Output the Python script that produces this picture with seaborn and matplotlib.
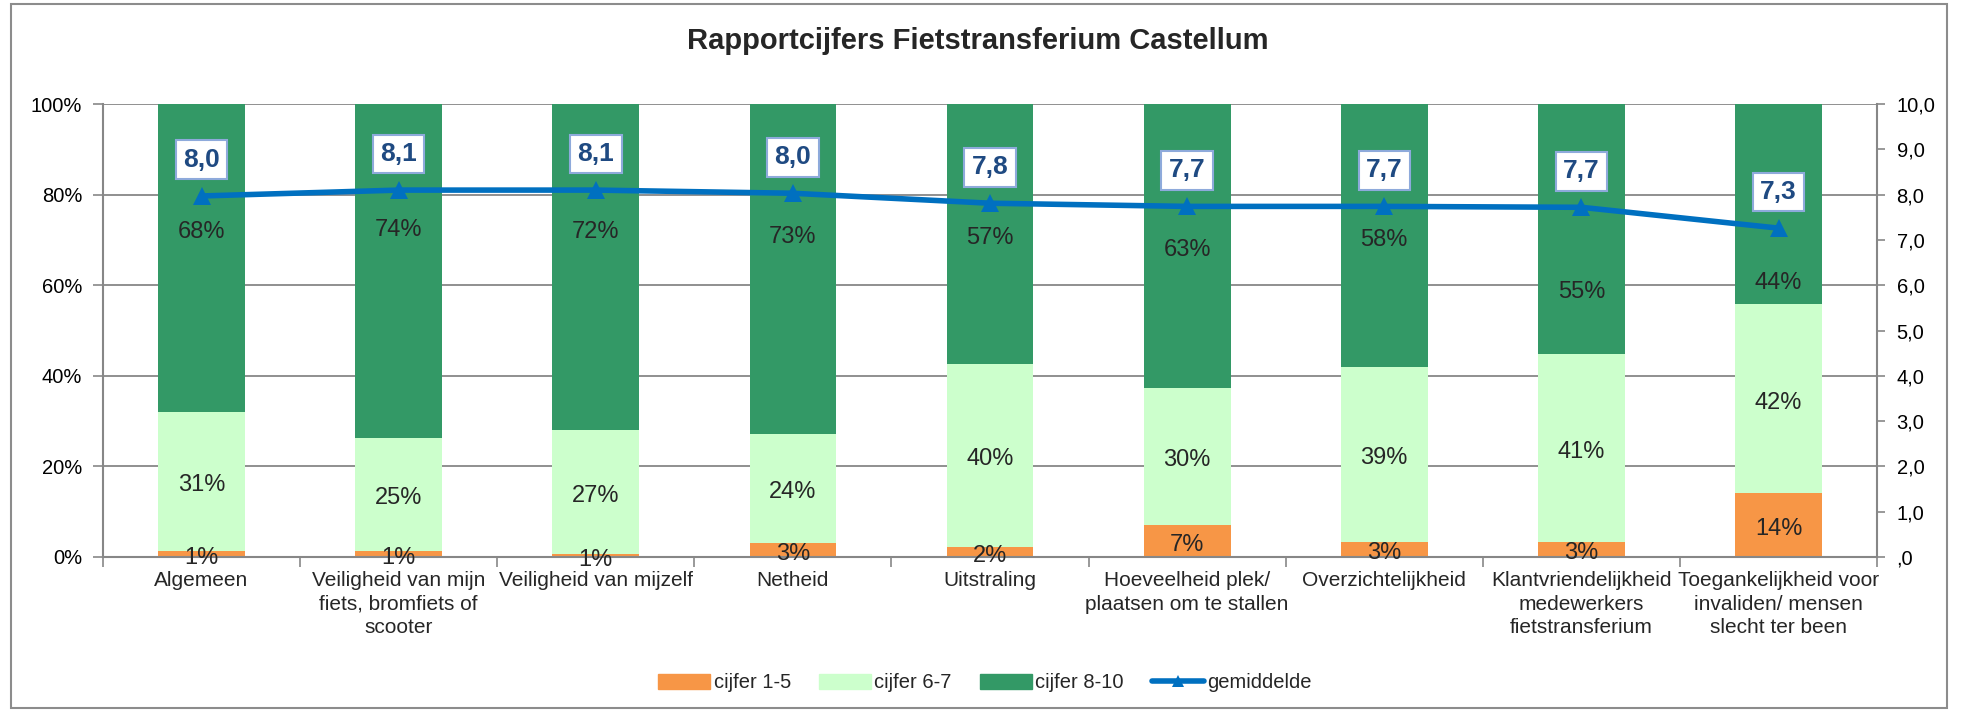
import numpy as np
import pandas as pd
import matplotlib
matplotlib.use('Agg')
import matplotlib.pyplot as plt
import matplotlib.ticker as mticker
from matplotlib.patches import Patch, Rectangle
from matplotlib.lines import Line2D
import seaborn as sns

sns.set_theme(style='ticks')
plt.rcParams['font.family'] = ['Liberation Sans', 'DejaVu Sans']

# -----------------------------------------------------------------------------
# Data
# -----------------------------------------------------------------------------
categories = ['Algemeen',
              'Veiligheid van mijn\nfiets, bromfiets of\nscooter',
              'Veiligheid van mijzelf',
              'Netheid',
              'Uitstraling',
              'Hoeveelheid plek/\nplaatsen om te stallen',
              'Overzichtelijkheid',
              'Klantvriendelijkheid\nmedewerkers\nfietstransferium',
              'Toegankelijkheid voor\ninvaliden/ mensen\nslecht ter been']
cijfer_1_5 = [1.4, 1.4, 0.7, 3.2, 2.3, 7.1, 3.4, 3.4, 14.1]
cijfer_6_7 = [30.7, 24.9, 27.3, 24.0, 40.4, 30.3, 38.6, 41.4, 41.7]
cijfer_8_10 = [67.9, 73.7, 72.0, 72.8, 57.3, 62.6, 58.0, 55.2, 44.2]
gemiddelde = [7.97, 8.10, 8.10, 8.03, 7.81, 7.74, 7.74, 7.72, 7.26]

series_names = ['cijfer 1-5', 'cijfer 6-7', 'cijfer 8-10', 'gemiddelde']
title = 'Rapportcijfers Fietstransferium Castellum'

# layout: manually placed labels of the top segment (in %)
dark_label_y = [71.7, 72.2, 71.7, 70.6, 70.4, 67.8, 70.0, 58.5, 60.5]

c_orange = '#F79646'
c_light = '#CCFFCC'
c_dark = '#339966'
c_line = '#0070C0'
c_grid = '#878787'

df = pd.DataFrame({'categorie': categories,
                   'laag': cijfer_1_5,
                   'midden': cijfer_6_7,
                   'hoog': cijfer_8_10})
df['cum_laag'] = df['laag']
df['cum_midden'] = df['laag'] + df['midden']
df['cum_hoog'] = df['cum_midden'] + df['hoog']

# -----------------------------------------------------------------------------
# Figure
# -----------------------------------------------------------------------------
fig = plt.figure(figsize=(19.61, 7.13), dpi=100)
ax = fig.add_axes([0.0525, 0.2188, 0.9047, 0.6353])

for col, c in [('cum_hoog', c_dark), ('cum_midden', c_light), ('cum_laag', c_orange)]:
    sns.barplot(data=df, x='categorie', y=col, color=c, saturation=1,
                width=0.44, linewidth=0, ax=ax, zorder=2)

ax.set_xlim(-0.5, 8.5)
ax.set_ylim(0, 100)
ax.set_xlabel('')
ax.set_ylabel('')
ax.set_yticks(np.arange(0, 101, 20))
ax.yaxis.set_major_formatter(mticker.FuncFormatter(lambda v, p: '{:.0f}%'.format(v)))
ax.yaxis.grid(True, color=c_grid, lw=1.3)
ax.set_axisbelow(True)
ax.tick_params(axis='y', length=7, width=1.2, color=c_grid, pad=8, labelsize=14.5, labelcolor='black')
ax.set_xticks(range(len(categories)))
ax.set_xticklabels(categories, fontsize=15, linespacing=1.32)
ax.tick_params(axis='x', which='major', length=0, pad=10)
ax.set_xticks(np.arange(-0.5, len(categories), 1), minor=True)
ax.tick_params(axis='x', which='minor', length=7, width=1.2, color=c_grid)
for s in ['top', 'right']:
    ax.spines[s].set_visible(False)
for s in ['left', 'bottom']:
    ax.spines[s].set_color(c_grid)
    ax.spines[s].set_linewidth(1.5)

# percentage labels
for i in range(len(categories)):
    ax.annotate('{:.0f}%'.format(cijfer_1_5[i]), (i, cijfer_1_5[i] / 2), xytext=(0, -3),
                textcoords='offset points', ha='center', va='center', fontsize=17, zorder=5)
    ax.annotate('{:.0f}%'.format(cijfer_6_7[i]), (i, cijfer_1_5[i] + cijfer_6_7[i] / 2), xytext=(0, -3),
                textcoords='offset points', ha='center', va='center', fontsize=17, zorder=5)
    ax.text(i, dark_label_y[i], '{:.0f}%'.format(cijfer_8_10[i]),
            ha='center', va='center', fontsize=17, zorder=5)

# average grade on secondary axis
ax2 = ax.twinx()
sns.lineplot(x=np.arange(len(categories)), y=gemiddelde, ax=ax2, color=c_line, lw=4,
             marker='^', markersize=13, markeredgewidth=0, zorder=3)
ax2.set_ylim(0, 10)
ax2.set_yticks(np.arange(0, 11, 1))
ax2.yaxis.set_major_formatter(mticker.FuncFormatter(
    lambda v, p: ',0' if v == 0 else '{:.1f}'.format(v).replace('.', ',')))
ax2.tick_params(axis='y', length=6, width=1.2, color=c_grid, pad=8, labelsize=14.5, labelcolor='black')
for s in ['top', 'left', 'bottom']:
    ax2.spines[s].set_visible(False)
ax2.spines['right'].set_color(c_grid)
ax2.spines['right'].set_linewidth(1.5)

for i, m in enumerate(gemiddelde):
    ax2.annotate('{:.1f}'.format(m).replace('.', ','), (i, m), xytext=(0, 26),
                 textcoords='offset points', ha='center', va='center',
                 fontsize=19, fontweight='bold', color='#1F4A82', zorder=6,
                 bbox=dict(boxstyle='square,pad=0.28', fc='white', ec='#8EAADB', lw=1.5))

# title, legend, frame
fig.text(978 / 1961, 1 - 41 / 713, title, ha='center', va='center', fontsize=21, fontweight='bold')

handles = [Patch(color=c_orange), Patch(color=c_light), Patch(color=c_dark),
           Line2D([0], [0], color=c_line, lw=4, marker='^', markersize=8, markeredgewidth=0)]
fig.legend(handles, series_names, loc='center', bbox_to_anchor=(985 / 1961, 1 - 683 / 713),
           ncol=4, frameon=False, fontsize=14.5, handlelength=2.6, handleheight=0.8,
           handletextpad=0.15, columnspacing=1.4)

fig.patches.append(Rectangle((11 / 1961, 1 - 708 / 713), 1936 / 1961, 704 / 713,
                             transform=fig.transFigure, fill=False, ec='#8C8C8C', lw=1.5))

fig.savefig('out.png', dpi=100)
